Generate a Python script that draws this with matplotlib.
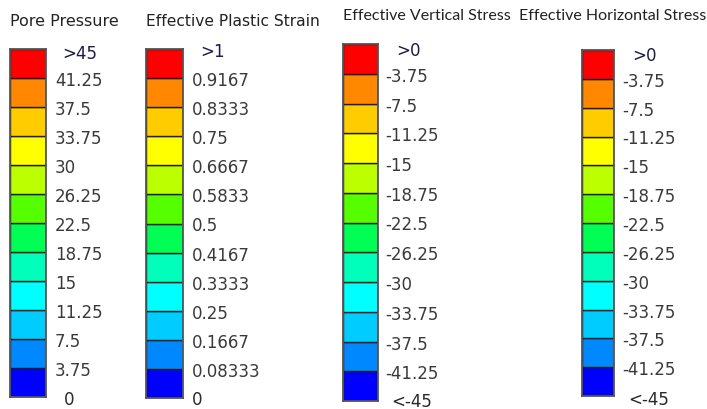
import matplotlib
matplotlib.use("Agg")
import matplotlib.pyplot as plt
import numpy as np

W, H = 707, 410

# Contour band colours, bottom (lowest) to top (highest)
band_colors = ["#0000FF", "#0088FF", "#00CCFF", "#00FFFF", "#00FFBB", "#00FF55",
               "#55FF00", "#BBFF00", "#FFFF00", "#FFCC00", "#FF8800", "#FF0000"]

# Band boundaries for each legend
pore_bounds = [0, 3.75, 7.5, 11.25, 15, 18.75, 22.5, 26.25, 30, 33.75, 37.5, 41.25, 45]
strain_bounds = [0, 0.08333, 0.1667, 0.25, 0.3333, 0.4167, 0.5, 0.5833, 0.6667,
                 0.75, 0.8333, 0.9167, 1]
vstress_bounds = [-45, -41.25, -37.5, -33.75, -30, -26.25, -22.5, -18.75, -15,
                  -11.25, -7.5, -3.75, 0]
hstress_bounds = [-45, -41.25, -37.5, -33.75, -30, -26.25, -22.5, -18.75, -15,
                  -11.25, -7.5, -3.75, 0]

# Tick labels at interior boundaries
pore_labels = ["3.75", "7.5", "11.25", "15", "18.75", "22.5", "26.25", "30",
               "33.75", "37.5", "41.25"]
strain_labels = ["0.08333", "0.1667", "0.25", "0.3333", "0.4167", "0.5", "0.5833",
                 "0.6667", "0.75", "0.8333", "0.9167"]
vstress_labels = ["-41.25", "-37.5", "-33.75", "-30", "-26.25", "-22.5", "-18.75",
                  "-15", "-11.25", "-7.5", "-3.75"]
hstress_labels = ["-41.25", "-37.5", "-33.75", "-30", "-26.25", "-22.5", "-18.75",
                  "-15", "-11.25", "-7.5", "-3.75"]

titles = ["Pore Pressure", "Effective Plastic Strain",
          "Effective Vertical Stress", "Effective Horizontal Stress"]
top_labels = [">45", ">1", ">0", ">0"]
bottom_labels = ["0", "0", "<-45", "<-45"]

fig = plt.figure(figsize=(W / 100, H / 100), dpi=100)
fig.patch.set_facecolor("white")

# layout in pixels: bar rect (x0, y0, x1, y1), label x, top label (x, y),
# bottom label (x, y), title (x, y, font, size)
panels = [
    dict(bounds=pore_bounds, labels=pore_labels, rect=(10, 50, 46, 398), lx=55,
         top=(62, 54), bot=(64, 400), title=(10, 21, "DejaVu Sans", 11.5)),
    dict(bounds=strain_bounds, labels=strain_labels, rect=(146, 50, 183, 399), lx=192,
         top=(200, 52), bot=(192, 400), title=(146, 21, "DejaVu Sans", 11.2)),
    dict(bounds=vstress_bounds, labels=vstress_labels, rect=(343, 45, 378, 402), lx=385,
         top=(396, 51), bot=(391, 402), title=(343, 16, "Lato", 11.5)),
    dict(bounds=hstress_bounds, labels=hstress_labels, rect=(582, 51, 614, 397), lx=622,
         top=(632, 56), bot=(628, 400), title=(519, 16, "Lato", 11.5)),
]

label_color = "#3a3a3a"
label_size = 12

for p, title, tl, bl in zip(panels, titles, top_labels, bottom_labels):
    x0, y0, x1, y1 = p["rect"]
    ax = fig.add_axes([x0 / W, (H - y1) / H, (x1 - x0) / W, (y1 - y0) / H])
    b = np.array(p["bounds"], dtype=float)
    ax.bar(0, np.diff(b), bottom=b[:-1], width=1.0, color=band_colors,
           edgecolor="#1e1e1e", linewidth=1.0, align="center")
    ax.set_xlim(-0.5, 0.5)
    ax.set_ylim(b[0], b[-1])
    ax.set_xticks([])
    ax.set_yticks([])
    for s in ax.spines.values():
        s.set_color("#555555")
        s.set_linewidth(1.3)

    # interior boundary labels
    for val, lab in zip(b[1:-1], p["labels"]):
        ax.annotate(lab, xy=(1, val), xycoords=("axes fraction", "data"),
                    xytext=((p["lx"] - x1) * 0.72, -2 * 0.72), textcoords="offset points",
                    ha="left", va="center", fontsize=label_size, color=label_color,
                    family="DejaVu Sans")

    # end labels
    fig.text(p["top"][0] / W, 1 - p["top"][1] / H, tl, ha="left", va="center",
             fontsize=label_size, color="#1c1c4a", family="DejaVu Sans")
    fig.text(p["bot"][0] / W, 1 - p["bot"][1] / H, bl, ha="left", va="center",
             fontsize=label_size, color="#2a2a2a", family="DejaVu Sans")

    tx, ty, tf, ts = p["title"]
    fig.text(tx / W, 1 - ty / H, title, ha="left", va="center",
             fontsize=ts, color="#222222", family=tf)

fig.savefig("out.png", dpi=100, facecolor="white")
